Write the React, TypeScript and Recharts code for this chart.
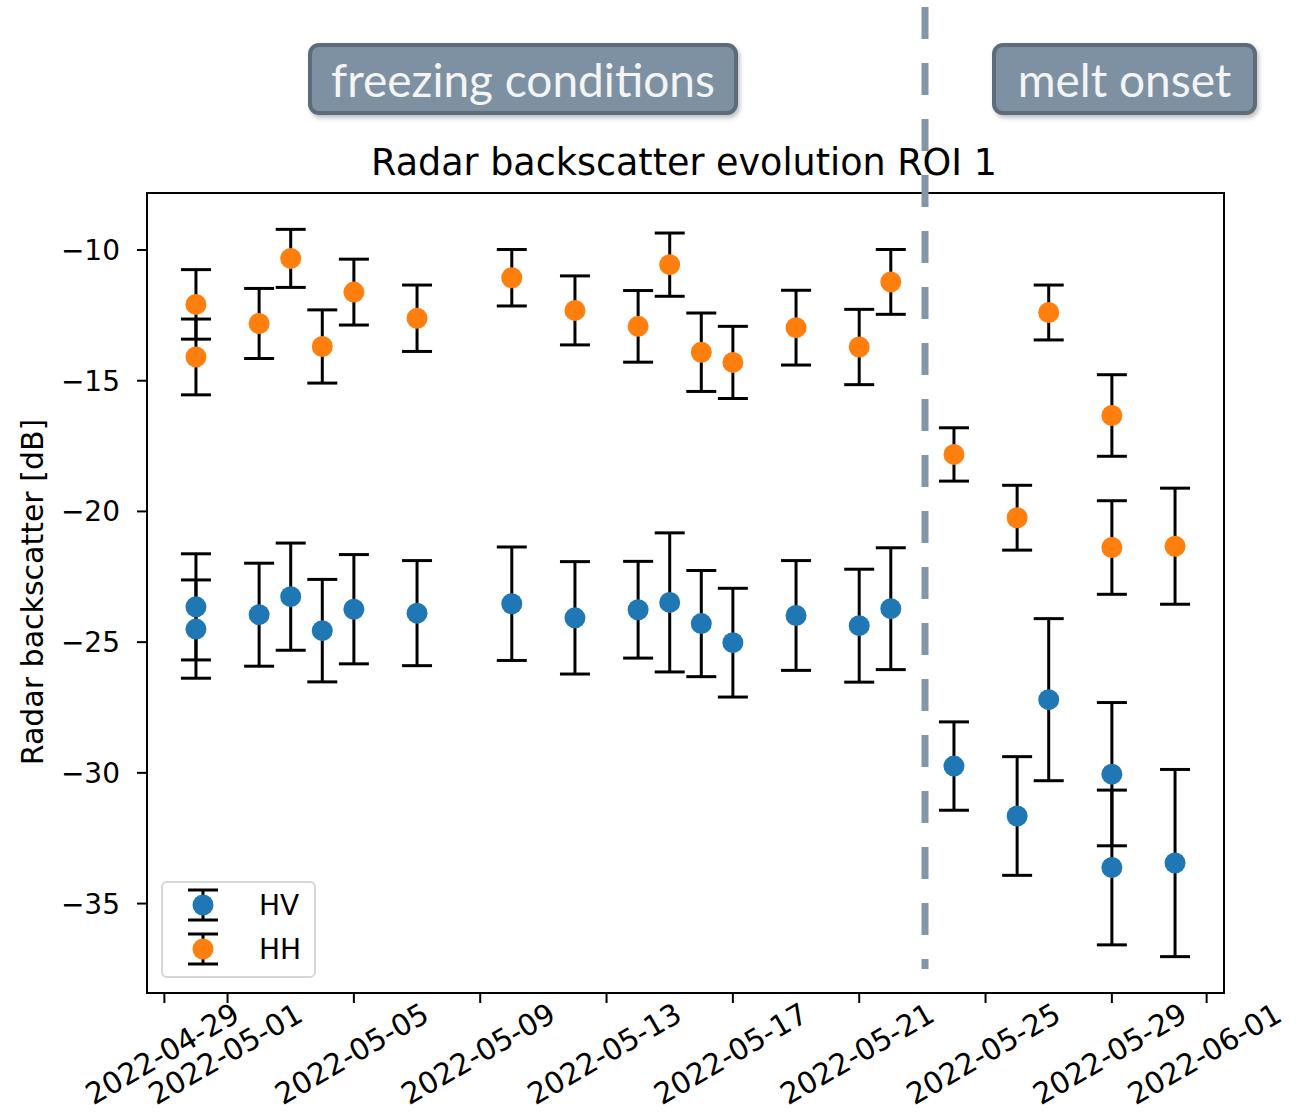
import React from "react";
import {
  ScatterChart,
  Scatter,
  XAxis,
  YAxis,
  ErrorBar,
  ReferenceLine,
  ReferenceArea,
} from "recharts";

// acquisition dates (two scenes on 04-30 and 05-29)
const dates = [
  "2022-04-30", "2022-04-30", "2022-05-02", "2022-05-03", "2022-05-04",
  "2022-05-05", "2022-05-07", "2022-05-10", "2022-05-12", "2022-05-14",
  "2022-05-15", "2022-05-16", "2022-05-17", "2022-05-19", "2022-05-21",
  "2022-05-22", "2022-05-24", "2022-05-26", "2022-05-27", "2022-05-29",
  "2022-05-29", "2022-05-31",
];

const hvMean = [
  -23.65, -24.5, -23.95, -23.26, -24.56, -23.74, -23.89, -23.53, -24.07, -23.76,
  -23.48, -24.29, -25.02, -23.98, -24.37, -23.72, -29.74, -31.65, -27.2, -30.05,
  -33.62, -33.45,
];
const hvErr = [
  2.03, 1.88, 1.97, 2.05, 1.96, 2.09, 2.01, 2.17, 2.15, 1.85,
  2.66, 2.03, 2.08, 2.1, 2.16, 2.33, 1.69, 2.27, 3.1, 2.74,
  2.96, 3.58,
];

const hhMean = [
  -12.08, -14.09, -12.81, -10.32, -13.69, -11.61, -12.61, -11.06, -12.31, -12.92,
  -10.56, -13.91, -14.3, -12.97, -13.71, -11.22, -17.82, -20.24, -12.39, -16.33,
  -21.38, -21.33,
];
const hhErr = [
  1.33, 1.45, 1.34, 1.11, 1.4, 1.26, 1.27, 1.08, 1.32, 1.37,
  1.21, 1.5, 1.38, 1.43, 1.44, 1.24, 1.02, 1.24, 1.05, 1.56,
  1.79, 2.22,
];

const xTicks = [
  "2022-04-29", "2022-05-01", "2022-05-05", "2022-05-09", "2022-05-13",
  "2022-05-17", "2022-05-21", "2022-05-25", "2022-05-29", "2022-06-01",
];
const yTicks = [-35, -30, -25, -20, -15, -10];

// hand-drawn marker, sits just after midnight of 05-23
const meltOnset = "2022-05-23T02:00";
const phases = [
  { label: "freezing conditions", left: 308, width: 430 },
  { label: "melt onset", left: 992, width: 265 },
];

const DAY = 86400000;
const toDay = (s: string) =>
  Date.parse(s.length > 10 ? s + ":00Z" : s + "T00:00:00Z") / DAY;
const fmtDay = (d: number) =>
  new Date(Math.round(d) * DAY).toISOString().slice(0, 10);

const series = [
  { name: "HV", color: "#1f77b4", mean: hvMean, err: hvErr },
  { name: "HH", color: "#ff7f0e", mean: hhMean, err: hhErr },
].map((s) => ({
  ...s,
  data: dates.map((d, i) => ({ x: toDay(d), y: s.mean[i], err: s.err[i] })),
}));

// matplotlib-like 5% margins
const xs = dates.map(toDay);
const xMin = Math.min(...xs);
const xMax = Math.max(...xs);
const xDomain = [xMin - (xMax - xMin) * 0.05, xMax + (xMax - xMin) * 0.05];
const lows = series.flatMap((s) => s.mean.map((m, i) => m - s.err[i]));
const highs = series.flatMap((s) => s.mean.map((m, i) => m + s.err[i]));
const yLo = Math.min(...lows);
const yHi = Math.max(...highs);
const yDomain = [yLo - (yHi - yLo) * 0.05, yHi + (yHi - yLo) * 0.05];

const FONT = "'DejaVu Sans', sans-serif";

const DateTick = ({ x, y, payload }: any) => {
  const cx = x - 2;
  const cy = y + 49;
  return (
    <text
      x={cx}
      y={cy}
      transform={`rotate(-30, ${cx}, ${cy})`}
      textAnchor="middle"
      dominantBaseline="central"
      fontSize={29.5}
      fontFamily={FONT}
      fill="#000"
    >
      {fmtDay(payload.value)}
    </text>
  );
};

const dot = (color: string) => (p: any) =>
  <circle cx={p.cx} cy={p.cy} r={10.5} fill={color} />;

function Legend() {
  return (
    <div
      style={{
        position: "absolute",
        left: 161,
        top: 881,
        width: 151,
        height: 93,
        border: "2px solid #d6d6d6",
        borderRadius: 6,
        background: "#fff",
      }}
    >
      <svg width={151} height={93}>
        {series.map((s, i) => {
          const cy = 22 + i * 44;
          return (
            <g key={s.name}>
              <line x1={40} x2={40} y1={cy - 15} y2={cy + 15} stroke="#000" strokeWidth={3} />
              <line x1={25} x2={55} y1={cy - 15} y2={cy - 15} stroke="#000" strokeWidth={3} />
              <line x1={25} x2={55} y1={cy + 15} y2={cy + 15} stroke="#000" strokeWidth={3} />
              <circle cx={40} cy={cy} r={10.5} fill={s.color} />
              <text x={96} y={cy} dominantBaseline="central" fontSize={28} fontFamily={FONT}>
                {s.name}
              </text>
            </g>
          );
        })}
      </svg>
    </div>
  );
}

export default function App() {
  return (
    <div style={{ position: "absolute", left: 0, top: 0, width: 1313, height: 1112, background: "#fff" }}>
      <svg width={1313} height={1112} style={{ position: "absolute", left: 0, top: 0 }}>
        <text x={684} y={175} textAnchor="middle" fontSize={36.5} fontFamily={FONT}>
          Radar backscatter evolution ROI 1
        </text>
        <text
          x={32}
          y={592}
          transform="rotate(-90, 32, 592)"
          textAnchor="middle"
          dominantBaseline="central"
          fontSize={30}
          fontFamily={FONT}
        >
          Radar backscatter [dB]
        </text>
      </svg>
      {phases.map((p) => (
        <div
          key={p.label}
          style={{
            position: "absolute",
            left: p.left,
            top: 43,
            width: p.width,
            height: 72,
            boxSizing: "border-box",
            border: "4px solid #5c6c7b",
            borderRadius: 11,
            background: "#7d91a3",
            boxShadow: "2px 3px 4px rgba(0,0,0,0.25)",
            color: "#f4f4f4",
            fontFamily: "Lato, 'Open Sans', sans-serif",
            fontSize: 46,
            display: "flex",
            alignItems: "center",
            justifyContent: "center",
          }}
        >
          {p.label}
        </div>
      ))}
      <div style={{ position: "absolute", left: 0, top: 0 }}>
        <ScatterChart
          width={1313}
          height={1112}
          margin={{ top: 193, right: 89, bottom: 19, left: 47 }}
        >
          <XAxis
            type="number"
            dataKey="x"
            domain={xDomain}
            ticks={xTicks.map(toDay)}
            tick={<DateTick />}
            tickSize={10}
            height={100}
            axisLine={{ stroke: "#000", strokeWidth: 2 }}
            tickLine={{ stroke: "#000", strokeWidth: 2 }}
            allowDataOverflow
          />
          <YAxis
            type="number"
            dataKey="y"
            domain={yDomain}
            ticks={yTicks}
            width={100}
            tickSize={10}
            tickMargin={17}
            tickFormatter={(v: number) => (v < 0 ? "\u2212" + Math.abs(v) : String(v))}
            tick={{ fontSize: 28, fontFamily: FONT, fill: "#000" }}
            axisLine={{ stroke: "#000", strokeWidth: 2 }}
            tickLine={{ stroke: "#000", strokeWidth: 2 }}
            allowDataOverflow
          />
          <ReferenceArea
            x1={xDomain[0]}
            x2={xDomain[1]}
            y1={yDomain[0]}
            y2={yDomain[1]}
            fill="none"
            stroke="#000"
            strokeWidth={2}
            ifOverflow="visible"
          />
          {series.map((s) => (
            <Scatter
              key={s.name}
              name={s.name}
              data={s.data}
              fill={s.color}
              shape={dot(s.color)}
              isAnimationActive={false}
            >
              <ErrorBar
                dataKey="err"
                direction="y"
                width={15}
                stroke="#000"
                strokeWidth={3}
                isAnimationActive={false}
              />
            </Scatter>
          ))}
          <ReferenceLine
            segment={[
              { x: toDay(meltOnset), y: -0.7 },
              { x: toDay(meltOnset), y: -37.5 },
            ]}
            ifOverflow="visible"
            stroke="#8196a8"
            strokeWidth={7}
            strokeDasharray="32 24"
          />
        </ScatterChart>
      </div>
      <Legend />
    </div>
  );
}
